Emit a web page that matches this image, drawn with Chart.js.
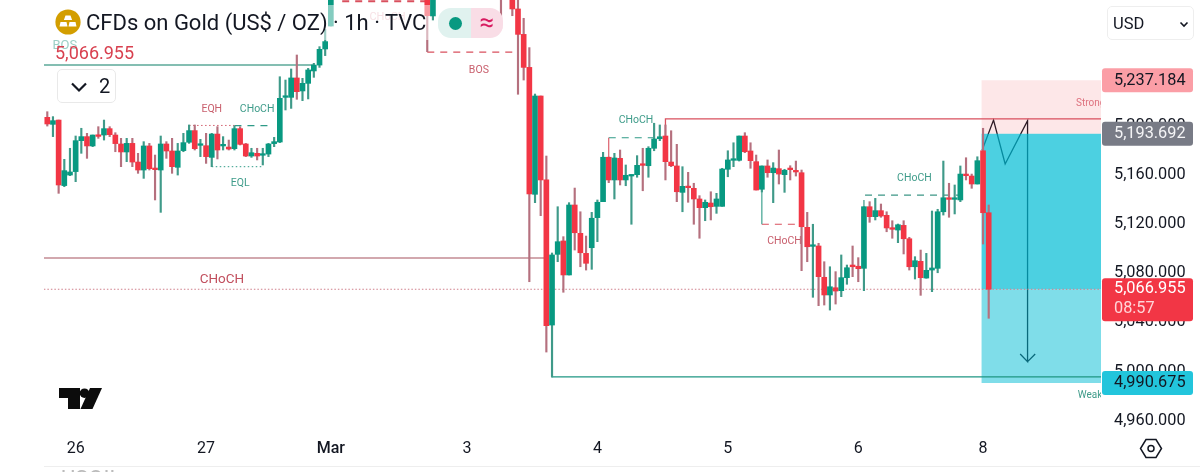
<!DOCTYPE html>
<html>
<head>
<meta charset="utf-8">
<title>CFDs on Gold</title>
<script src="https://cdn.jsdelivr.net/npm/chart.js@4/dist/chart.umd.js"></script>
<style>
  html, body { margin: 0; padding: 0; background: #fff; overflow: hidden; }
  body { width: 1200px; height: 472px; position: relative; font-family: Roboto, sans-serif; color: #131722; }
  canvas { position: absolute; left: 0; top: 0; }
  .abs { position: absolute; }
  #veil { left: 50px; top: 5px; width: 380px; height: 35px; background: rgba(255,255,255,.5); }
  #title { left: 86px; top: 8px; font-size: 22px; line-height: 30px; white-space: nowrap; }
  #lastPrice { left: 55px; top: 42px; font-size: 18px; line-height: 22px; color: #d8404f; }
  #pill { left: 438px; top: 8px; width: 65px; height: 30px; border-radius: 13px; overflow: hidden; display: flex; }
  #pill div { width: 50%; height: 100%; text-align: center; }
  #pill .l { background: #e0f2ef; position: relative; }
  #pill .l i { position: absolute; left: 11px; top: 8.5px; width: 13px; height: 13px; border-radius: 50%; background: #089981; }
  #pill .r { background: #f9dde6; color: #d81b60; font-size: 26px; line-height: 28px; }
  #fold { left: 57px; top: 69px; width: 57px; height: 32px; border: 1px solid #e9e9e9; border-radius: 5px; background: #fff; font-size: 20px; line-height: 33px; }
  #fold span { position: absolute; left: 41px; }
  #currency { left: 1107px; top: 6px; width: 85px; height: 32px; border: 1px solid #eee; border-radius: 5px; background: #fff; font-size: 16.5px; line-height: 33px; }
  #currency span { position: absolute; left: 5px; }
  #foot { left: 44px; top: 466px; width: 1156px; height: 6px; border-top: 1px solid #eee; overflow: hidden; }
  #foot span { position: absolute; left: 17px; top: 0; font-size: 22px; line-height: 24px; color: #bbb; }
</style>
</head>
<body>
<canvas id="chart" width="1200" height="472"></canvas>

<div class="abs" id="veil"></div>
<svg class="abs" style="left:55px;top:9px" width="26" height="26" viewBox="0 0 26 26">
  <circle cx="13" cy="13" r="12.6" fill="#d39e00"/>
  <path d="M10.5 6.5h5l1.6 4.5H8.9zM5.5 13h6l1 4.5H4.5zM14.5 13h6l1 4.5h-8z" fill="#fff"/>
</svg>
<div class="abs" id="title">CFDs on Gold (US$ / OZ) · 1h · TVC</div>
<div class="abs" id="lastPrice">5,066.955</div>
<div class="abs" id="pill"><div class="l"><i></i></div><div class="r">≈</div></div>
<div class="abs" id="fold">
  <svg class="abs" style="left:12px;top:11px" width="18" height="12" viewBox="0 0 18 12"><path d="M2 2.5l7 7 7-7" fill="none" stroke="#131722" stroke-width="2.2"/></svg>
  <span>2</span>
</div>
<div class="abs" id="currency">
  <span>USD</span>
  <svg class="abs" style="left:71px;top:14px" width="10" height="7" viewBox="0 0 10 7"><path d="M1.5 1.5L5 5l3.5-3.5" fill="none" stroke="#131722" stroke-width="1.6"/></svg>
</div>
<svg class="abs" style="left:59px;top:388px" width="43" height="22" viewBox="0 0 43 22">
  <path d="M0 0h21v21H9V10H0z" fill="#0c0c0c"/><circle cx="25.5" cy="5.2" r="4.8" fill="#0c0c0c"/><path d="M31 0h12l-9.5 21H21.5z" fill="#0c0c0c"/>
</svg>
<svg class="abs" style="left:1139px;top:438px" width="24" height="21" viewBox="0 0 24 21">
  <path d="M7 1.5h10l5.5 9-5.5 9H7l-5.5-9z" fill="none" stroke="#131722" stroke-width="1.5"/><circle cx="12" cy="10.5" r="3" fill="none" stroke="#131722" stroke-width="1.5"/>
</svg>
<div class="abs" id="foot"><span>USOIL</span></div>

<script>
// candles, one per hour. null = above the top of the picture, can't be read
const opens = [
  5207.0,5201.3,5204.8,5151.4,5160.0,5162.8,5188.0,5191.3,5183.7,5192.1,
  5192.6,5197.8,5192.6,5185.3,5178.8,5185.8,5170.6,5164.1,5183.7,5165.5,
  5164.1,5185.3,5179.6,5166.3,5179.9,5186.7,5196.2,5184.2,5183.9,5174.4,
  5193.4,5183.7,5182.8,5181.5,5197.8,5185.3,5175.5,5177.7,5176.1,5177.1,
  5185.6,5186.9,5223.3,5223.3,5239.1,5228.5,5234.7,5244.8,5249.6,5262.7,
  5281.4,null,null,null,null,null,null,null,null,null,
  null,null,null,null,null,null,null,5320,5289.6,null,
  null,null,null,null,null,null,null,null,null,null,
  5335,null,5320,5295.3,5274.6,5247.7,5144.3,5224.4,5156.0,5037.8,
  5095.4,5106.3,5078.6,5135.6,5112.5,5096.2,5100.8,5125.3,5138.3,5174.5,
  5156.0,5173.6,5156.0,5159.2,5160.3,5168.4,5167.6,5181.8,5189.6,5191.8,
  5170.6,5167.4,5145.9,5150.5,5149.2,5140.5,5133.4,5137.2,5134.5,5134.5,
  5164.7,5172.0,5172.0,5191.8,5179.6,5170.9,5148.4,5167.4,5161.9,5165.2,
  5160.3,5164.9,5163.3,5161.9,5117.4,5101.9,5102.2,5076.7,5062.3,5068.2,
  5065.8,5076.4,5086.7,5085.7,5084.0,5134.2,5126.1,5131.0,5127.2,5116.9,
  5115.2,5119.0,5108.1,5085.3,5089.7,5076.1,5082.6,5084.0,5130.1,5141.5,
  5140.2,5139.7,5160.8,5159.2,5152.7,5179.8,5129.3
];
const closes = [
  5201.6,5204.3,5151.9,5163.6,5162.5,5188.0,5191.3,5183.7,5192.6,5191.5,
  5197.8,5192.9,5185.6,5178.8,5185.8,5170.6,5164.1,5183.7,5165.2,5164.4,
  5185.3,5179.6,5166.8,5179.6,5186.4,5196.2,5181.5,5184.7,5175.0,5193.4,
  5180.4,5184.2,5181.2,5197.8,5185.0,5175.5,5178.2,5175.5,5177.1,5185.3,
  5187.2,5222.5,5223.8,5239.1,5227.9,5234.7,5245.6,5249.6,5262.4,5268.7,
  5320,null,null,null,null,null,null,null,null,null,
  null,null,null,null,null,null,null,5289.8,5320,null,
  null,null,null,null,null,null,null,null,null,null,
  5320,null,5295.3,5274.6,5247.7,5144.6,5224.4,5156.0,5037.3,5094.9,
  5105.7,5078.6,5135.6,5113.0,5096.7,5088.1,5124.8,5137.8,5174.5,5156.0,
  5173.9,5156.0,5159.8,5159.8,5167.9,5167.9,5181.8,5189.4,5191.2,5170.9,
  5167.6,5146.4,5150.8,5149.7,5140.5,5133.4,5137.8,5134.2,5140.5,5164.9,
  5172.3,5172.5,5191.8,5179.0,5171.7,5147.8,5167.4,5161.9,5165.7,5160.8,
  5163.9,5164.4,5162.5,5117.9,5101.6,5102.4,5077.2,5062.3,5069.0,5065.5,
  5076.4,5084.5,5085.3,5083.7,5134.2,5126.1,5131.0,5126.6,5116.9,5115.8,
  5119.5,5108.1,5085.3,5090.2,5076.4,5082.4,5084.3,5130.1,5141.5,5140.2,
  5140.7,5160.8,5159.5,5152.7,5171.7,5129.3,5066.955
];
const highs = [
  5211.6,5207.6,5204.8,5172.8,5181.8,5191.8,5198.1,5194.0,5192.6,5199.4,
  5204.8,5199.4,5194.5,5189.9,5189.9,5189.9,5177.7,5187.2,5185.8,5176.3,
  5191.8,5187.2,5189.9,5185.8,5194.0,5200.8,5200.8,5189.1,5194.0,5194.0,
  5199.4,5191.3,5188.5,5200.0,5199.4,5185.8,5181.8,5181.8,5181.8,5185.8,
  5190.7,5240.1,5237.4,5246.4,5257.8,5238.8,5246.9,5251.0,5264.6,5278.7,
  5330,null,null,null,null,null,null,null,null,null,
  null,null,null,null,null,null,null,5330,5330,null,
  null,null,null,null,null,null,null,null,null,null,
  5340,null,5330,5305,5287.7,5263.8,5226.0,5224.4,5175.5,5096.5,
  5134.2,5109.8,5137.5,5149.4,5130.1,5110.3,5129.6,5139.7,5178.5,5174.7,
  5177.7,5180.4,5168.2,5160.3,5175.8,5181.8,5183.1,5202.2,5200.8,5200.8,
  5196.1,5185.0,5166.8,5162.2,5153.3,5143.2,5139.7,5146.4,5145.1,5165.5,
  5179.8,5186.3,5191.8,5194.5,5186.3,5176.3,5167.4,5172.3,5170.1,5180.4,
  5164.7,5167.6,5171.4,5164.1,5129.6,5119.9,5104.4,5089.4,5085.3,5081.3,
  5094.9,5086.7,5102.2,5092.7,5134.2,5138.3,5141.0,5136.4,5130.1,5122.8,
  5120.1,5122.8,5109.3,5093.5,5098.9,5096.2,5130.7,5132.1,5171.4,5153.3,
  5151.9,5167.4,5174.1,5160.8,5174.9,5198.1,5135.6
];
const lows = [
  5199.9,5191.3,5145.1,5150.5,5159.5,5154.6,5177.7,5173.6,5183.1,5189.9,
  5188.5,5191.3,5179.0,5166.8,5170.9,5166.8,5161.4,5157.3,5164.1,5139.7,
  5129.6,5173.6,5161.4,5160.0,5179.0,5185.8,5180.4,5175.0,5169.5,5166.8,
  5173.1,5180.4,5180.4,5180.4,5184.5,5175.0,5174.4,5172.3,5168.2,5175.0,
  5183.1,5186.4,5213.0,5214.3,5221.7,5220.6,5222.0,5239.6,5247.7,5257.3,
  5281.4,null,null,null,null,null,null,null,null,null,
  null,null,null,null,null,null,null,5260.5,5286.3,null,
  null,null,null,null,null,null,null,null,null,null,
  5279.5,null,5289.8,5225.8,5237.4,5073.1,5137.5,5126.9,5015.8,4995.5,
  5089.4,5064.5,5078.6,5098.9,5085.3,5082.6,5083.2,5105.7,5138.3,5153.8,
  5140.5,5151.9,5151.3,5119.9,5158.2,5147.2,5158.2,5179.8,5188.0,5156.0,
  5166.8,5138.3,5130.1,5137.8,5119.9,5108.5,5122.8,5123.4,5128.8,5134.5,
  5158.6,5166.8,5171.4,5178.2,5165.5,5147.8,5146.2,5158.2,5137.5,5152.7,
  5145.9,5156.0,5159.2,5082.1,5089.4,5060.4,5053.6,5054.1,5050.0,5054.9,
  5060.9,5071.0,5077.2,5073.1,5065.8,5121.5,5123.4,5125.6,5113.8,5108.5,
  5104.9,5095.7,5082.6,5075.3,5062.0,5075.9,5065.0,5080.4,5127.4,5125.6,
  5128.3,5138.3,5156.0,5149.2,5152.7,5103.8,5043.3
];

// axes
const dayTickIndex = [5, 28, 50, 74, 97, 120, 143, 165];
const dayLabels = ["26", "27", "Mar", "3", "4", "5", "6", "8"];
const priceTicks = [4960, 5000, 5040, 5080, 5120, 5160, 5200];

// drawn levels as [bar index, price]
const bosLine = [[-0.6, 5249.6], [47, 5249.6]];
const redChochLine = [[-0.6, 5092.4], [87.8, 5092.4]];
const lastPriceLine = [[-0.6, 5066.955], [186, 5066.955]];
const strongHighLine = [[109, 5191], [109, 5205.7], [186, 5205.7]];
const weakLowLine = [[89, 5037], [89, 4995.5], [186, 4995.5]];
const eqhDotted = [[25, 5200.4], [33, 5200.4]];
const eqhChoch = [[33, 5200.2], [39.5, 5200.2]];
const eqlDotted = [[29, 5166.8], [38, 5166.8]];
const chochUpperStem = [[99, 5174.5], [99, 5190.4]];
const chochUpper = [[99, 5190.4], [107.8, 5190.4]];
const chochMidStem = [[126, 5148], [126, 5119.9]];
const chochMid = [[126, 5119.9], [133, 5119.9]];
const chochRight = [[144, 5134], [144, 5143.7], [161, 5143.7]];
const bosDashed = [[67, 5260.2], [83, 5260.2]];
const topDashed = [[52, 5301.6], [67, 5301.6]];
const projection = [[164.85, 5180.4], [166.85, 5204.8], [168.9, 5169], [172.85, 5204.3], [172.85, 5008], [171.55, 5014.2], [172.85, 5008], [174.2, 5014.2]];

// position zones
const zoneStart = 164.7;
const zoneEnd = 186;
const strongZone = [5237.184, 5193.692];
const targetZone = [5193.692, 5066.955];
const lowerZone = [5066.955, 4990.675];

// chart text
const labelTexts = ["BOS", "EQH", "CHoCH", "EQL", "CHoCH", "BOS", "CHoCH", "CHoCH", "CHoCH", "CHoCH", "Strong", "Weak"];
const labelIndex = [3.1, 29, 37, 34, 60, 76.1, 30.8, 103.8, 130, 152.9, 181.4, 181.7];
const labelPrices = [5266.8, 5214.6, 5214.6, 5154.3, 5289.6, 5246.4, 5076.1, 5205.7, 5107, 5158.4, 5219.5, 4981.6];
const labelKinds = ["bosFaded", "red", "teal", "teal", "chochFaded", "red", "big", "teal", "red", "teal", "strong", "weak"];

// price badges on the right
const badgePrices = [5237.184, 5193.692, 5066.955, 4990.675];
const badgeTexts = ["5,237.184", "5,193.692", "5,066.955", "4,990.675"];
const countdown = "08:57";

const RED = "#f23645";
const GREEN = "#089981";

Chart.defaults.font.family = "Roboto";

const isUp = (i) => closes[i] >= opens[i];

function lineSet(points, color, dash, width, order) {
  return {
    type: "line",
    data: points.map((p) => ({ x: p[0], y: p[1] })),
    borderColor: color,
    borderDash: dash || [],
    borderWidth: width || 1.2,
    pointRadius: 0,
    tension: 0,
    order: order || 2,
  };
}

function zoneSet(prices, color) {
  return {
    type: "line",
    data: [{ x: zoneStart, y: prices[0] }, { x: zoneEnd, y: prices[0] }],
    backgroundColor: color,
    borderWidth: 0,
    pointRadius: 0,
    fill: { value: prices[1] },
    order: 3,
  };
}

// labels that sit on the plot, plus the badges over the price axis
const overlayPlugin = {
  id: "overlay",
  beforeDatasetsDraw(chart) {
    const { ctx, chartArea, scales } = chart;
    const styles = {
      bosFaded: ["#9ccfc5", 13],
      chochFaded: ["#eec3ca", 11],
      red: ["#c9606e", 10.5],
      teal: ["#3f9c8a", 10.5],
      big: ["#c2505f", 13.5],
      strong: ["#dc7a87", 10],
      weak: ["#3f9c8a", 10],
    };
    ctx.save();
    ctx.beginPath();
    ctx.rect(chartArea.left, chartArea.top, chartArea.width, chartArea.height);
    ctx.clip();
    ctx.textBaseline = "middle";
    labelTexts.forEach((text, i) => {
      const kind = labelKinds[i];
      ctx.fillStyle = styles[kind][0];
      ctx.font = styles[kind][1] + "px Roboto";
      ctx.textAlign = kind === "strong" || kind === "weak" ? "left" : "center";
      ctx.fillText(text, scales.x.getPixelForValue(labelIndex[i]), scales.y.getPixelForValue(labelPrices[i]) + 1.5);
    });
    ctx.restore();
  },
  afterDraw(chart) {
    const { ctx, scales } = chart;
    const fills = ["#fb9ea6", "#787b86", RED, "#22c5dc"];
    const inks = ["#131722", "#f4f4f6", "#fff", "#131722"];
    ctx.save();
    ctx.font = "16.3px Roboto";
    ctx.textAlign = "left";
    ctx.textBaseline = "middle";
    badgePrices.forEach((price, i) => {
      const mid = scales.y.getPixelForValue(price);
      const twoLines = i === 2;
      const top = twoLines ? mid - 11 : mid - 12;
      ctx.fillStyle = fills[i];
      ctx.beginPath();
      ctx.roundRect(1102, top, 91, twoLines ? 43 : 24, 3);
      ctx.fill();
      ctx.fillStyle = inks[i];
      ctx.fillText(badgeTexts[i], 1114, mid + (twoLines ? 0 : 0.5));
      if (twoLines) {
        ctx.fillStyle = "#ffd5d8";
        ctx.fillText(countdown, 1114, mid + 19.5);
      }
    });
    ctx.restore();
  },
};

new Chart(document.getElementById("chart"), {
  data: {
    datasets: [
      {
        type: "bar",
        data: closes.map((c, i) => ({ x: i, y: c === null ? null : [opens[i], c] })),
        backgroundColor: closes.map((c, i) => (isUp(i) ? GREEN : RED)),
        barThickness: 5,
        minBarLength: 1.6,
        grouped: false,
        order: 0,
      },
      {
        type: "bar",
        data: highs.map((h, i) => ({ x: i, y: h === null ? null : [lows[i], h] })),
        backgroundColor: highs.map((h, i) => (isUp(i) ? "#3f9a89" : "#b5707e")),
        barThickness: 1.5,
        grouped: false,
        order: 1,
      },
      lineSet(bosLine, "#5ba899", [], 1.4),
      lineSet(redChochLine, "#a5525f", [], 1.2),
      lineSet(lastPriceLine, "#cf7f8b", [1.5, 2], 1),
      lineSet(strongHighLine, "#d9505e", [], 1.3),
      lineSet(weakLowLine, "#1f9683", [], 1.3),
      lineSet(eqhDotted, "#d2606e", [1.5, 2.5], 1),
      lineSet(eqhChoch, "#2f9a87", [7, 6], 1.2),
      lineSet(eqlDotted, "#2f9a87", [1.5, 2.5], 1),
      lineSet(chochUpperStem, "#d9505e", [], 1.1),
      lineSet(chochUpper, "#2f9a87", [7, 6], 1.2),
      lineSet(chochMidStem, "#2f9a87", [], 1.1),
      lineSet(chochMid, "#d9505e", [7, 6], 1.2),
      lineSet(chochRight, "#3c9686", [7, 6], 1.2),
      lineSet(bosDashed, "#d9505e", [7, 6], 1.2),
      lineSet(topDashed, "#d9505e", [7, 6], 2),
      zoneSet(strongZone, "rgba(242,54,69,0.12)"),
      zoneSet(targetZone, "rgba(0,188,212,0.7)"),
      zoneSet(lowerZone, "rgba(0,188,212,0.5)"),
      lineSet(projection, "#131722", [], 1.3, 4),
    ],
  },
  options: {
    responsive: false,
    animation: false,
    events: [],
    layout: { padding: { left: 44, top: 0, right: 0, bottom: 0 } },
    plugins: { legend: { display: false }, tooltip: { enabled: false } },
    scales: {
      x: {
        type: "linear",
        min: -0.58,
        max: 185.8,
        offset: false,
        grid: { display: false, drawTicks: false },
        border: { display: false },
        afterBuildTicks: (scale) => { scale.ticks = dayTickIndex.map((v) => ({ value: v })); },
        afterFit: (scale) => { scale.height = 42; },
        ticks: {
          autoSkip: false,
          maxRotation: 0,
          padding: 9,
          color: "#131722",
          font: (ctx) => ({ size: 16, weight: ctx.tick && ctx.tick.value === 50 ? "500" : "400" }),
          callback: (v) => dayLabels[dayTickIndex.indexOf(v)],
        },
      },
      y: {
        position: "right",
        min: 4952.3,
        max: 5302.6,
        grid: { display: false, drawTicks: false },
        border: { display: false },
        afterBuildTicks: (scale) => { scale.ticks = priceTicks.map((v) => ({ value: v })); },
        afterFit: (scale) => { scale.width = 99; scale.paddingTop = 0; scale.paddingBottom = 0; },
        ticks: {
          padding: 13,
          color: "#131722",
          font: { size: 16.3 },
          callback: (v) => v.toLocaleString("en-US", { minimumFractionDigits: 3 }),
        },
      },
    },
  },
  plugins: [overlayPlugin],
});
</script>
</body>
</html>
